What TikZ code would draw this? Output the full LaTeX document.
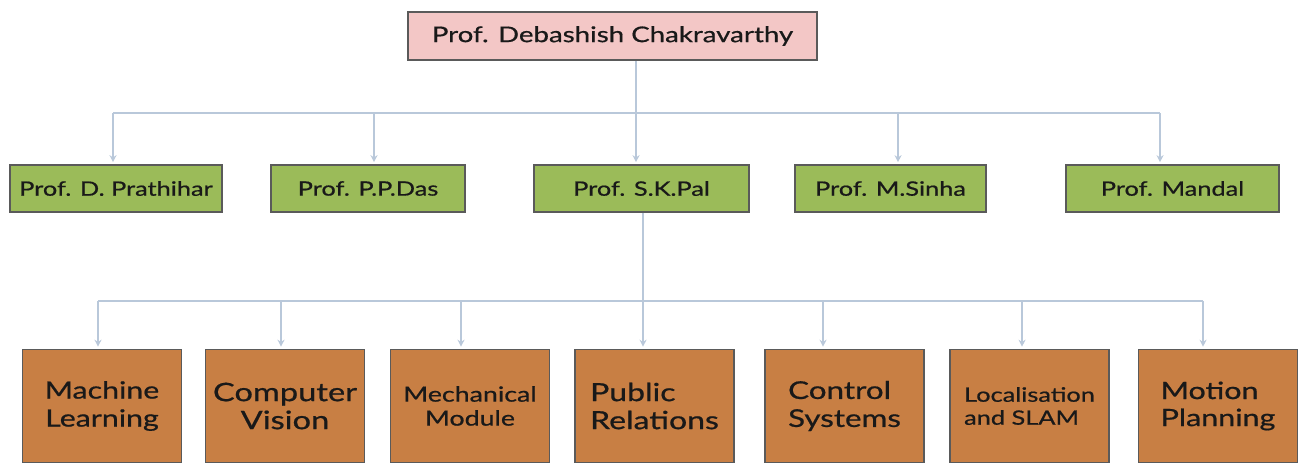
\documentclass[tikz,border=0pt]{standalone}
\usepackage{fontspec}
\setmainfont[FakeStretch=1.28,FakeBold=0.7]{Lato}
\usetikzlibrary{arrows.meta}
\definecolor{pinkfill}{RGB}{243,199,198}
\definecolor{greenfill}{RGB}{155,187,89}
\definecolor{orangefill}{RGB}{200,127,68}
\definecolor{boxline}{RGB}{90,90,90}
\definecolor{conncol}{RGB}{185,200,218}
\definecolor{txt}{RGB}{25,25,25}
\tikzset{
  box/.style={draw=boxline, line width=1.6pt, text=txt, inner sep=0pt, anchor=center},
  topbox/.style={box, fill=pinkfill, minimum width=409pt, minimum height=48pt, font=\fontsize{21.6}{25}\selectfont},
  profbox/.style={box, fill=greenfill, minimum height=47pt, font=\fontsize{19.8}{23}\selectfont},
  teambox/.style={box, fill=orangefill, minimum width=159pt, minimum height=113pt},
  bus/.style={draw=conncol, line width=2.8pt},
  conn/.style={bus, -{Stealth[length=7pt,width=7pt]}, shorten >=2pt}
}
\begin{document}
\begin{tikzpicture}[x=1pt,y=-1pt]
\useasboundingbox (0,0) rectangle (1301,463);
% top
\node[topbox] (top) at (612.5,36) {Prof. Debashish Chakravarthy};
% professors
\node[profbox, minimum width=212pt] (dp) at (116,188.5) {Prof. D. Prathihar};
\node[profbox, minimum width=194pt] (pp) at (368,188.5) {Prof. P.P.Das};
\node[profbox, minimum width=215pt] (sk) at (641.5,188.5) {Prof. S.K.Pal};
\node[profbox, minimum width=191pt] (ms) at (890.5,188.5) {Prof. M.Sinha};
\node[profbox, minimum width=213pt] (md) at (1172.5,188.5) {Prof. Mandal};
% teams
\node[teambox, align=center, font=\fontsize{23.7}{28}\selectfont] (ml) at (102,406) {Machine\\Learning};
\node[teambox, align=center, font=\fontsize{25.5}{28}\selectfont] (cv) at (285,406) {Computer\\Vision};
\node[teambox, align=center, font=\fontsize{20.9}{24}\selectfont] (mm) at (470,406) {Mechanical\\Module};
\node[teambox, align=left, font=\fontsize{25}{28}\selectfont] (pr) at (654.5,406) {Public\\Relations};
\node[teambox, align=left, font=\fontsize{24.5}{28}\selectfont] (cs) at (844.5,406) {Control\\Systems};
\node[teambox, align=left, font=\fontsize{19.8}{23}\selectfont] (ls) at (1029.5,406) {Localisation\\and SLAM};
\node[teambox, align=left, font=\fontsize{23.8}{27}\selectfont] (mp) at (1218,406) {Motion\\Planning};
% upper connectors
\coordinate (tx) at (636,113);
\coordinate (ua) at (113,113);
\coordinate (ub) at (374,113);
\coordinate (uc) at (898,113);
\coordinate (ud) at (1160,113);
\draw[bus] (ua) -- (ud);
\draw[conn] (top.south -| tx) -- (sk.north -| tx);
\draw[conn] (ua) -- (dp.north -| ua);
\draw[conn] (ub) -- (pp.north -| ub);
\draw[conn] (uc) -- (ms.north -| uc);
\draw[conn] (ud) -- (md.north -| ud);
% lower connectors
\coordinate (lx) at (643,301);
\coordinate (la) at (98,301);
\coordinate (lb) at (281,301);
\coordinate (lc) at (461,301);
\coordinate (le) at (823,301);
\coordinate (lf) at (1022,301);
\coordinate (lg) at (1203,301);
\draw[bus] (sk.south -| lx) -- (lx);
\draw[bus] (la) -- (lg);
\draw[conn] (la) -- (ml.north -| la);
\draw[conn] (lb) -- (cv.north -| lb);
\draw[conn] (lc) -- (mm.north -| lc);
\draw[conn] (lx) -- (pr.north -| lx);
\draw[conn] (le) -- (cs.north -| le);
\draw[conn] (lf) -- (ls.north -| lf);
\draw[conn] (lg) -- (mp.north -| lg);
\end{tikzpicture}
\end{document}
